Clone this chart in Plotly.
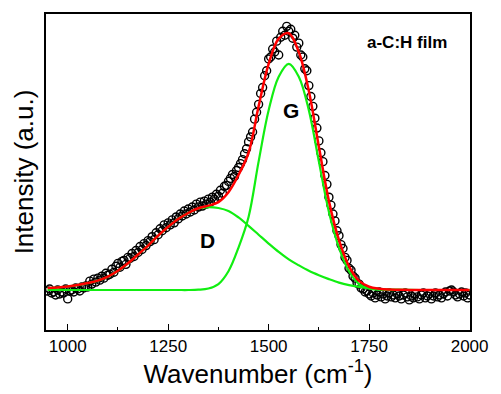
import plotly.graph_objects as go

# ---- data ----
wavenumber_data = [
    950, 955, 960, 965, 970, 975, 980, 985, 990, 995,
    1000, 1005, 1010, 1015, 1020, 1025, 1030, 1035, 1040, 1045,
    1050, 1055, 1060, 1065, 1070, 1075, 1080, 1085, 1090, 1095,
    1100, 1105, 1110, 1115, 1120, 1125, 1130, 1135, 1140, 1145,
    1150, 1155, 1160, 1165, 1170, 1175, 1180, 1185, 1190, 1195,
    1200, 1205, 1210, 1215, 1220, 1225, 1230, 1235, 1240, 1245,
    1250, 1255, 1260, 1265, 1270, 1275, 1280, 1285, 1290, 1295,
    1300, 1305, 1310, 1315, 1320, 1325, 1330, 1335, 1340, 1345,
    1350, 1355, 1360, 1365, 1370, 1375, 1380, 1385, 1390, 1395,
    1400, 1405, 1410, 1415, 1420, 1425, 1430, 1435, 1440, 1445,
    1450, 1455, 1460, 1465, 1470, 1475, 1480, 1485, 1490, 1495,
    1500, 1505, 1510, 1515, 1520, 1525, 1530, 1535, 1540, 1545,
    1550, 1555, 1560, 1565, 1570, 1575, 1580, 1585, 1590, 1595,
    1600, 1605, 1610, 1615, 1620, 1625, 1630, 1635, 1640, 1645,
    1650, 1655, 1660, 1665, 1670, 1675, 1680, 1685, 1690, 1695,
    1700, 1705, 1710, 1715, 1720, 1725, 1730, 1735, 1740, 1745,
    1750, 1755, 1760, 1765, 1770, 1775, 1780, 1785, 1790, 1795,
    1800, 1805, 1810, 1815, 1820, 1825, 1830, 1835, 1840, 1845,
    1850, 1855, 1860, 1865, 1870, 1875, 1880, 1885, 1890, 1895,
    1900, 1905, 1910, 1915, 1920, 1925, 1930, 1935, 1940, 1945,
    1950, 1955, 1960, 1965, 1970, 1975, 1980, 1985, 1990, 1995,
    2000,
]
intensity_data = [
    -1, 1, -3, -2, -5, 0, -4, -2, -3, 1,
    -9, -1, 0, -2, 2, 1, -1, 3, 2, 4,
    3, 9, 6, 11, 8, 12, 10, 14, 12, 17,
    15, 16, 21, 18, 24, 27, 23, 29, 30, 26,
    33, 32, 37, 34, 40, 38, 44, 41, 47, 45,
    50, 49, 54, 51, 58, 56, 62, 60, 66, 63,
    68, 66, 71, 68, 74, 72, 77, 75, 80, 77,
    82, 79, 84, 81, 87, 84, 89, 85, 90, 87,
    92, 89, 94, 92, 97, 95, 101, 98, 105, 106,
    110, 113, 117, 115, 121, 124, 128, 132, 138, 143,
    150, 155, 160, 173, 180, 188, 199, 205, 217, 222,
    234, 236, 244, 241, 252, 238, 256, 262, 258, 267,
    262, 264, 255, 258, 246, 250, 238, 236, 224, 222,
    207, 196, 186, 174, 164, 151, 139, 130, 116, 107,
    94, 86, 77, 70, 60, 55, 46, 42, 33, 30,
    22, 20, 14, 12, 7, 6, 2, 1, -2, -1,
    -4, -6, -3, -8, -5, -2, -7, -4, -9, -6,
    -3, -7, -5, -8, -4, -6, -9, -5, -3, -7,
    -10, -6, -8, -4, -7, -9, -5, -3, -8, -6,
    -4, -9, -6, -3, -7, -5, -8, -4, -2, -6,
    -1, 0, -2, -5, -7, -4, -2, -6, -3, -8,
    -5,
]

wavenumber_fit = [
    950, 975, 1000, 1025, 1050, 1075, 1100, 1125, 1150, 1175,
    1200, 1225, 1250, 1275, 1300, 1325, 1350, 1375, 1400, 1425,
    1450, 1475, 1500, 1525, 1550, 1575, 1600, 1625, 1650, 1675,
    1700, 1725, 1750, 1775, 1800, 1825, 1850, 1875, 1900, 1925,
    1950, 1975, 2000,
]
d_band = [
    2, 2.5, 3.5, 5, 7, 9.5, 13.5, 19.5, 27, 36,
    45, 55, 64, 72, 78, 82.5, 84, 83, 80, 73.5,
    65, 56, 47, 38.5, 31, 25, 19.5, 15, 11, 7.5,
    5, 3.2, 1.8, 1, 0.5, 0.3, 0.1, 0, 0, 0,
    0, 0, 0,
]
g_band = [
    0, 0, 0, 0, 0, 0, 0, 0, 0, 0,
    0, 0, 0, 0, 0, 0.3, 1.5, 6, 19, 43,
    74, 130, 182, 216, 229, 216, 182, 130, 79, 43,
    19, 6, 1.5, 0.3, 0, 0, 0, 0, 0, 0,
    0, 0, 0,
]
total_fit = [
    2, 2.5, 3.5, 5, 7, 9.5, 13.5, 19.5, 27, 36,
    45, 55, 64, 72, 78, 82.8, 85.5, 89, 99, 116.5,
    139, 186, 229, 254.5, 260, 241, 201.5, 145, 90, 50.5,
    24, 9.2, 3.3, 1.3, 0.5, 0.3, 0.1, 0, 0, 0,
    0, 0, 0,
]
x_ticks = [1000, 1250, 1500, 1750, 2000]

FONT = "Liberation Sans, Arial, sans-serif"
GREEN = "#11EE11"
RED = "#FF0000"

fig = go.Figure()
fig.add_trace(go.Scatter(
    x=wavenumber_data, y=intensity_data, mode="markers",
    marker=dict(symbol="circle-open", size=8, color="black",
                line=dict(width=1.4, color="black")),
    showlegend=False,
))
fig.add_trace(go.Scatter(
    x=wavenumber_fit, y=d_band, mode="lines",
    line=dict(color=GREEN, width=2.2, shape="spline", smoothing=1),
    showlegend=False,
))
fig.add_trace(go.Scatter(
    x=wavenumber_fit, y=g_band, mode="lines",
    line=dict(color=GREEN, width=2.2, shape="spline", smoothing=1),
    showlegend=False,
))
fig.add_trace(go.Scatter(
    x=wavenumber_fit, y=total_fit, mode="lines",
    line=dict(color=RED, width=2.5, shape="spline", smoothing=1),
    showlegend=False,
))

fig.add_annotation(x=1555, y=182, text="<b>G</b>", showarrow=False,
                   font=dict(family=FONT, size=21, color="black"))
fig.add_annotation(x=1348, y=50, text="<b>D</b>", showarrow=False,
                   font=dict(family=FONT, size=21, color="black"))
fig.add_annotation(x=1845, y=251, text="<b>a-C:H film</b>", showarrow=False,
                   font=dict(family=FONT, size=17, color="black"))

fig.update_layout(
    width=501, height=394,
    margin=dict(l=46, r=24, t=13, b=61),
    paper_bgcolor="white", plot_bgcolor="white",
    font=dict(family=FONT, color="black"),
    xaxis=dict(
        range=[946, 2001], tickvals=x_ticks,
        ticks="inside", ticklen=6, tickwidth=1.3, tickcolor="black",
        minor=dict(tickvals=[1125, 1375, 1625, 1875], ticks="inside",
                   ticklen=3, tickwidth=1.3, tickcolor="black"),
        showline=True, linecolor="black", linewidth=1.5, mirror=True,
        showgrid=False, zeroline=False,
        tickfont=dict(family=FONT, size=17, color="black"),
        title=dict(text="Wavenumber (cm<sup>-1</sup>)", standoff=8,
                   font=dict(family=FONT, size=26, color="black")),
    ),
    yaxis=dict(
        range=[-40.5, 279.5], showticklabels=False, ticks="",
        showline=True, linecolor="black", linewidth=1.5, mirror=True,
        showgrid=False, zeroline=False,
        title=dict(text="Intensity (a.u.)", standoff=3,
                   font=dict(family=FONT, size=26, color="black")),
    ),
)

fig.write_html(
    "out.html",
    config={"displayModeBar": False},
    post_script="document.body.style.margin='0';document.body.style.overflow='hidden';",
)
